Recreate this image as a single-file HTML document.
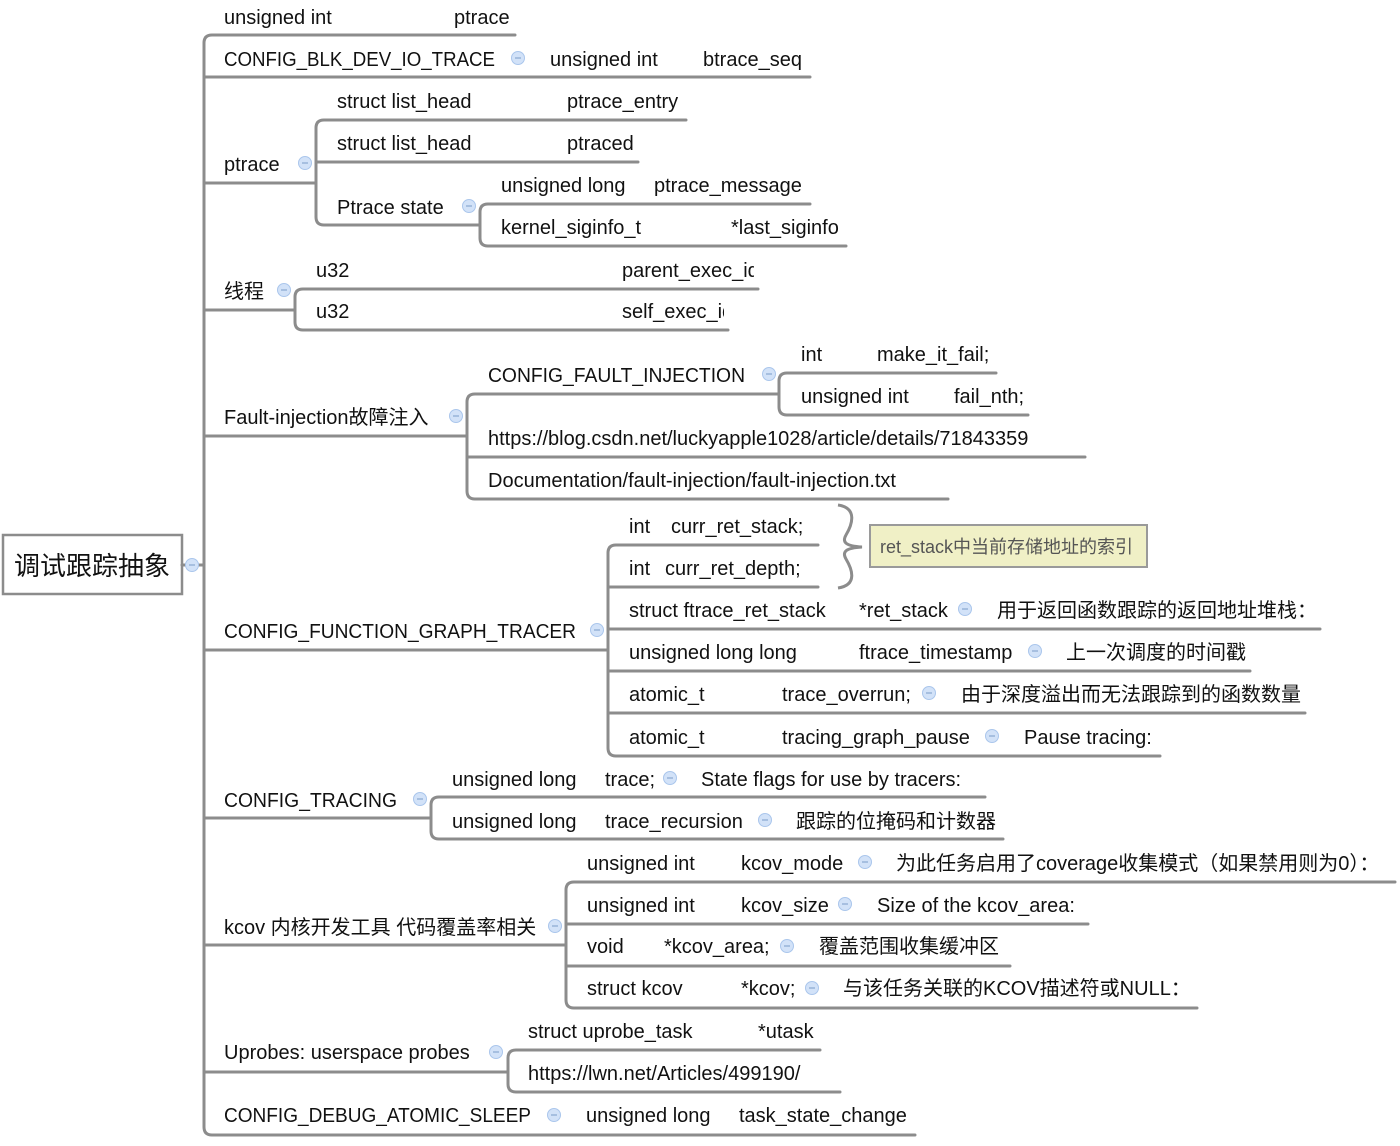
<!DOCTYPE html>
<html><head><meta charset="utf-8"><style>
html,body{margin:0;padding:0;background:#fff;}
svg{display:block;}
text{font-family:"Liberation Sans","Noto Sans CJK SC",sans-serif;font-size:20px;fill:#111;}
.l{fill:none;stroke:#8c8c8c;stroke-width:3;stroke-linejoin:round;stroke-linecap:round;}
.c{fill:#d2e2f8;stroke:#aac6ec;stroke-width:1;}
</style></head><body>
<svg width="1400" height="1146" viewBox="0 0 1400 1146">
<defs>
<g id="m"><circle class="c" cx="0" cy="0" r="6.5"/><line x1="-3" y1="0" x2="3" y2="0" stroke="#8aa8d0" stroke-width="1.2"/></g>
</defs>
<rect x="3" y="535" width="179" height="59" fill="#fff" stroke="#8c8c8c" stroke-width="2.5"/>
<text x="92" y="575" text-anchor="middle" style="font-size:26px">调试跟踪抽象</text>
<path class="l" d="M182 565 H204"/>
<use href="#m" x="192" y="565"/>
<path class="l" d="M515 35 H212 Q204 35 204 43 V1127 Q204 1135 212 1135 H915"/>
<path class="l" d="M204 77 H810"/>
<path class="l" d="M204 183 H316"/>
<path class="l" d="M204 310 H295"/>
<path class="l" d="M204 436 H467"/>
<path class="l" d="M204 650 H608"/>
<path class="l" d="M204 818 H431"/>
<path class="l" d="M204 945 H566"/>
<path class="l" d="M204 1072 H508"/>

<text x="224" y="24">unsigned int</text><text x="454" y="24">ptrace</text>
<text x="224" y="66" textLength="271" lengthAdjust="spacingAndGlyphs">CONFIG_BLK_DEV_IO_TRACE</text><use href="#m" x="518" y="58"/>
<text x="550" y="66">unsigned int</text><text x="703" y="66">btrace_seq</text>

<text x="224" y="171">ptrace</text><use href="#m" x="305" y="163"/>
<path class="l" d="M686 120 H324 Q316 120 316 128 V217 Q316 225 324 225 H480"/>
<path class="l" d="M316 162 H638"/>
<text x="337" y="108">struct list_head</text><text x="567" y="108">ptrace_entry</text>
<text x="337" y="150">struct list_head</text><text x="567" y="150">ptraced</text>
<text x="337" y="214">Ptrace state</text><use href="#m" x="469" y="206"/>
<path class="l" d="M810 204 H488 Q480 204 480 212 V238 Q480 246 488 246 H846"/>
<text x="501" y="192">unsigned long</text><text x="654" y="192">ptrace_message</text>
<text x="501" y="234">kernel_siginfo_t</text><text x="731" y="234">*last_siginfo</text>

<text x="224" y="298">线程</text><use href="#m" x="284" y="290"/>
<path class="l" d="M758 289 H303 Q295 289 295 297 V322 Q295 330 303 330 H728"/>
<text x="316" y="277">u32</text><text x="622" y="277">parent_exec_id</text>
<text x="316" y="318">u32</text><text x="622" y="318">self_exec_id</text>
<rect x="754" y="258" width="20" height="28" fill="#fff"/>
<rect x="724" y="298" width="20" height="28" fill="#fff"/>

<text x="224" y="424">Fault-injection故障注入</text><use href="#m" x="456" y="416"/>
<path class="l" d="M779 394 H475 Q467 394 467 402 V491 Q467 499 475 499 H948"/>
<path class="l" d="M467 457 H1085"/>
<text x="488" y="382" textLength="257" lengthAdjust="spacingAndGlyphs">CONFIG_FAULT_INJECTION</text><use href="#m" x="769" y="374"/>
<path class="l" d="M996 373 H787 Q779 373 779 381 V407 Q779 415 787 415 H1028"/>
<text x="801" y="361">int</text><text x="877" y="361">make_it_fail;</text>
<text x="801" y="403">unsigned int</text><text x="954" y="403">fail_nth;</text>
<text x="488" y="445">https://blog.csdn.net/luckyapple1028/article/details/71843359</text>
<text x="488" y="487">Documentation/fault-injection/fault-injection.txt</text>
<rect x="1082" y="420" width="30" height="30" fill="#fff"/>
<rect x="945" y="462" width="30" height="30" fill="#fff"/>

<text x="224" y="638" textLength="352" lengthAdjust="spacingAndGlyphs">CONFIG_FUNCTION_GRAPH_TRACER</text><use href="#m" x="597" y="630"/>
<path class="l" d="M818 545 H616 Q608 545 608 553 V748 Q608 756 616 756 H1160"/>
<path class="l" d="M608 587 H818"/>
<path class="l" d="M608 629 H1320"/>
<path class="l" d="M608 671 H1250"/>
<path class="l" d="M608 713 H1305"/>
<text x="629" y="533">int</text><text x="671" y="533">curr_ret_stack;</text>
<text x="629" y="575">int</text><text x="665" y="575">curr_ret_depth;</text>
<path d="M838 505 C858 508 852 525 846 535 C842 542 845 546 862 547 C845 548 842 552 846 559 C852 569 858 585 838 588" fill="none" stroke="#8c8c8c" stroke-width="3"/>
<rect x="870" y="525" width="277" height="42" fill="#f0f0c6" stroke="#9a9a9a" stroke-width="2"/>
<text x="880" y="553" style="font-size:18px;fill:#555">ret_stack中当前存储地址的索引</text>
<text x="629" y="617">struct ftrace_ret_stack</text><text x="859" y="617">*ret_stack</text><use href="#m" x="965" y="609"/>
<text x="997" y="617">用于返回函数跟踪的返回地址堆栈：</text>
<text x="629" y="659">unsigned long long</text><text x="859" y="659">ftrace_timestamp</text><use href="#m" x="1035" y="651"/>
<text x="1066" y="659">上一次调度的时间戳</text>
<text x="629" y="701">atomic_t</text><text x="782" y="701">trace_overrun;</text><use href="#m" x="929" y="693"/>
<text x="961" y="701">由于深度溢出而无法跟踪到的函数数量</text>
<text x="629" y="744">atomic_t</text><text x="782" y="744">tracing_graph_pause</text><use href="#m" x="992" y="736"/>
<text x="1024" y="744">Pause tracing:</text>

<text x="224" y="807" textLength="173" lengthAdjust="spacingAndGlyphs">CONFIG_TRACING</text><use href="#m" x="420" y="799"/>
<path class="l" d="M985 797 H439 Q431 797 431 805 V831 Q431 839 439 839 H1003"/>
<text x="452" y="786">unsigned long</text><text x="605" y="786">trace;</text><use href="#m" x="670" y="778"/>
<text x="701" y="786">State flags for use by tracers:</text>
<text x="452" y="828">unsigned long</text><text x="605" y="828">trace_recursion</text><use href="#m" x="765" y="820"/>
<text x="796" y="828">跟踪的位掩码和计数器</text>

<text x="224" y="934">kcov 内核开发工具 代码覆盖率相关</text><use href="#m" x="555" y="926"/>
<path class="l" d="M1395 882 H574 Q566 882 566 890 V1000 Q566 1008 574 1008 H1197"/>
<path class="l" d="M566 924 H1088"/>
<path class="l" d="M566 966 H1010"/>
<text x="587" y="870">unsigned int</text><text x="741" y="870">kcov_mode</text><use href="#m" x="865" y="862"/>
<text x="896" y="870">为此任务启用了coverage收集模式（如果禁用则为0）：</text>
<text x="587" y="912">unsigned int</text><text x="741" y="912">kcov_size</text><use href="#m" x="845" y="904"/>
<text x="877" y="912">Size of the kcov_area:</text>
<text x="587" y="953">void</text><text x="664" y="953">*kcov_area;</text><use href="#m" x="787" y="946"/>
<text x="819" y="953">覆盖范围收集缓冲区</text>
<text x="587" y="995">struct kcov</text><text x="741" y="995">*kcov;</text><use href="#m" x="812" y="988"/>
<text x="843" y="995">与该任务关联的KCOV描述符或NULL：</text>

<text x="224" y="1059">Uprobes: userspace probes</text><use href="#m" x="496" y="1052"/>
<path class="l" d="M820 1050 H516 Q508 1050 508 1058 V1084 Q508 1092 516 1092 H840"/>
<text x="528" y="1038">struct uprobe_task</text><text x="758" y="1038">*utask</text>
<text x="528" y="1080">https://lwn.net/Articles/499190/</text>

<text x="224" y="1122" textLength="307" lengthAdjust="spacingAndGlyphs">CONFIG_DEBUG_ATOMIC_SLEEP</text><use href="#m" x="554" y="1115"/>
<text x="586" y="1122">unsigned long</text><text x="739" y="1122">task_state_change</text>
</svg>
</body></html>
